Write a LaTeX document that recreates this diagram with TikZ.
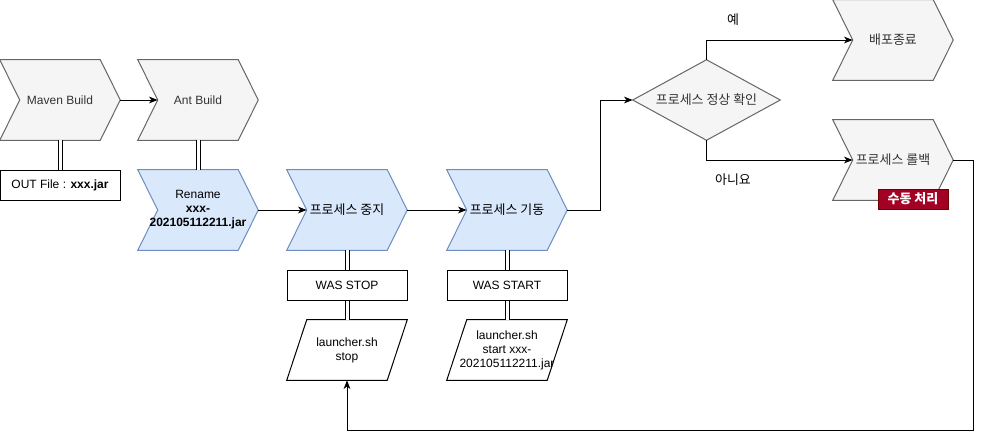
\documentclass[tikz,border=0pt]{standalone}
\usepackage{fontspec}
\setmainfont{Liberation Sans}
\newfontfamily\kr{Noto Sans CJK KR}[Scale=1.08]
\usetikzlibrary{arrows.meta,calc,backgrounds}
\definecolor{gfill}{HTML}{F5F5F5}
\definecolor{gline}{HTML}{666666}
\definecolor{gtext}{HTML}{333333}
\definecolor{bfill}{HTML}{DAE8FC}
\definecolor{bline}{HTML}{6C8EBF}
\definecolor{rfill}{HTML}{A20025}
\definecolor{rline}{HTML}{6F0000}
\newcommand\drawchev[2]{\draw[#2] (#1.north west) -- ($(#1.north east)+(-20,0)$) -- (#1.east) -- ($(#1.south east)+(-20,0)$) -- (#1.south west) -- ($(#1.west)+(20,0)$) -- cycle;}
\newcommand\drawpara[2]{\draw[#2] ($(#1.north west)+(20,0)$) -- (#1.north east) -- ($(#1.south east)+(-20,0)$) -- (#1.south west) -- cycle;}
\tikzset{
  txt/.style={font=\fontsize{9pt}{10.5pt}\selectfont, align=center, inner sep=0pt},
  stepnode/.style={txt, minimum width=120*0.75pt, minimum height=80*0.75pt},
  gstep/.style={fill=gfill, draw=gline, line width=0.75pt},
  bstep/.style={fill=bfill, draw=bline, line width=0.75pt},
  plainbox/.style={txt, draw=black, line width=0.75pt, fill=white, minimum width=120*0.75pt, minimum height=30*0.75pt},
  paranode/.style={txt, minimum width=120*0.75pt, minimum height=60*0.75pt},
  pline/.style={draw=black, fill=white, line width=0.75pt},
  arr/.style={draw=black, line width=0.75pt, -{Stealth[length=6.5pt,width=5pt,inset=1.8pt]}},
  link/.style={draw=black, line width=0.75pt, double, double distance=2.25pt},
}
\begin{document}
\begin{tikzpicture}[x=0.75pt,y=-0.75pt]
\useasboundingbox (0,0) rectangle (983,440);
% nodes
\node[stepnode, text=gtext] (mvn) at (60,100) {Maven Build};
\node[stepnode, text=gtext] (ant) at (198,100) {Ant Build};
\node[plainbox] (out) at (60,185) {OUT File : \textbf{xxx.jar}};
\node[stepnode] (ren) at (198,210) {Rename\\\textbf{xxx-}\\\textbf{202105112211.jar}};
\node[stepnode] (stop) at (347,210) {\kr 프로세스 중지};
\node[stepnode] (start) at (507,210) {\kr 프로세스 기동};
\node[plainbox] (wstop) at (347,285) {WAS STOP};
\node[plainbox] (wstart) at (507,285) {WAS START};
\node[paranode] (lstop) at (347,350) {launcher.sh\\stop};
\node[paranode] (lstart) at (507,350) {launcher.sh\\start xxx-\\202105112211.jar};
\node[txt, minimum width=147*0.75pt, minimum height=80*0.75pt, text=gtext] (chk) at (706.5,100) {\kr 프로세스 정상 확인};
\node[stepnode, text=gtext] (end) at (893,40) {\kr 배포종료};
\node[stepnode, text=gtext] (rb) at (893,160) {\kr 프로세스 롤백};
\node[txt, text=black] (yes) at (733,20) {\kr 예};
\node[txt, text=black] (no) at (733,180) {\kr 아니요};
% background shapes
\begin{scope}[on background layer]
\fill[white] (0,0) rectangle (983,440);
\drawchev{mvn}{gstep}
\drawchev{ant}{gstep}
\drawchev{ren}{bstep}
\drawchev{stop}{bstep}
\drawchev{start}{bstep}
\drawchev{end}{gstep}
\drawchev{rb}{gstep}
\drawpara{lstop}{pline}
\drawpara{lstart}{pline}
\draw[gstep] (chk.west) -- (chk.north) -- (chk.east) -- (chk.south) -- cycle;
\end{scope}
\node[txt, fill=rfill, draw=rline, line width=0.75pt, text=white, minimum width=70*0.75pt, minimum height=20*0.75pt] (man) at (913,199) {\kr\bfseries 수동 처리};
% connectors
\draw[link] (mvn.south) -- (out.north);
\draw[link] (ant.south) -- (ren.north);
\draw[link] (stop.south) -- (wstop.north);
\draw[link] (wstop.south) -- (lstop.north);
\draw[link] (start.south) -- (wstart.north);
\draw[link] (wstart.south) -- (lstart.north);
\draw[arr] (mvn.east) -- ($(ant.west)+(20,0)$);
\draw[arr] (ren.east) -- ($(stop.west)+(20,0)$);
\draw[arr] (stop.east) -- ($(start.west)+(20,0)$);
\draw[arr] (start.east) -- ++(33,0) |- (chk.west);
\draw[arr] (chk.north) |- ($(end.west)+(20,0)$);
\draw[arr] (chk.south) |- ($(rb.west)+(20,0)$);
\draw[arr] (rb.east) -- ++(20,0) -- ++(0,270) -| (lstop.south);
\end{tikzpicture}
\end{document}
